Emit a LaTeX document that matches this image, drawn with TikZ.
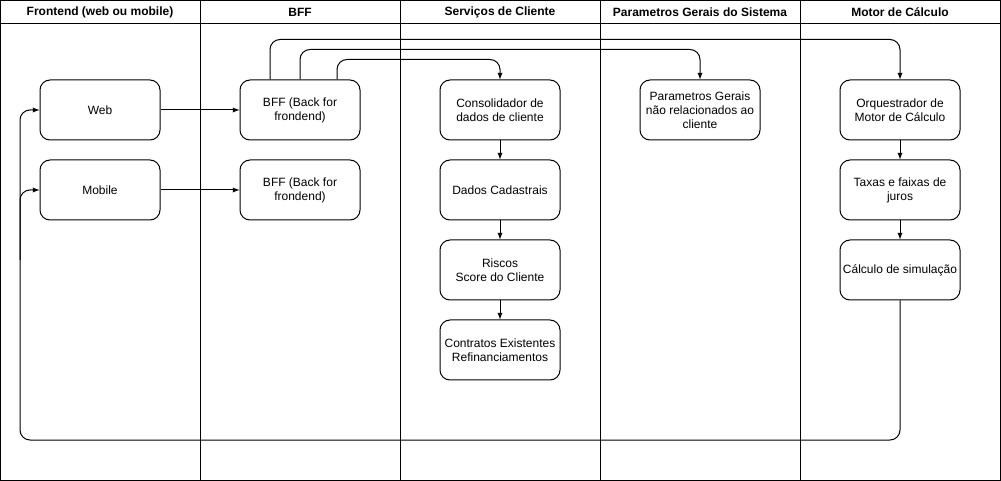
\documentclass[tikz,border=0pt]{standalone}
\usepackage{fontspec}
\setmainfont{Liberation Sans}
\usetikzlibrary{arrows,positioning}
\tikzset{>=latex}

\begin{document}
\begin{tikzpicture}[x=0.75pt, y=-0.75pt, line width=0.75pt,
        font=\fontsize{9}{10.5}\selectfont]

                        % lanes drawn directly, boxes placed below of one another
                        \tikzstyle{box}=[draw=black, rounded corners=7.5pt, align=center,
                                minimum width=90pt, minimum height=45pt, inner sep=1pt, node distance=60pt]
                        \tikzstyle{lane}=[font=\fontsize{9}{10.5}\selectfont\bfseries]
                        \tikzstyle{every edge}=[black, ->, draw]
                        \useasboundingbox (0,0) rectangle (1001,481);
                        \draw (0.5,0.5) rectangle (1000.5,480.5);
                        \draw (0.5,24) -- (1000.5,24);
                        \foreach \x in {200,400,600,800}
                                \draw (\x,0.5) -- (\x,480.5);

                        \node[lane] (hfront) at (100,12) {Frontend (web ou mobile)};
                        \node[lane] (hbff) at (300,12) {BFF};
                        \node[lane] (hserv) at (500,12) {Serviços de Cliente};
                        \node[lane] (hpar) at (700,12) {Parametros Gerais do Sistema};
                        \node[lane] (hmot) at (900,12) {Motor de Cálculo};

                        \node[box] (web) at (100,110) {Web};
                        \node[box] (mob) [below of = web] {Mobile};
                        \node[box] (bffw) at (300,110) {BFF (Back for\\frondend)};
                        \node[box] (bffm) [below of = bffw] {BFF (Back for\\frondend)};
                        \node[box] (con) at (500,110) {Consolidador de\\dados de cliente};
                        \node[box] (cad) [below of = con] {Dados Cadastrais};
                        \node[box] (ris) [below of = cad] {Riscos\\Score do Cliente};
                        \node[box] (ctr) [below of = ris] {Contratos Existentes\\Refinanciamentos};
                        \node[box] (par) at (700,110) {Parametros Gerais\\não relacionados ao\\cliente};
                        \node[box] (orq) at (900,110) {Orquestrador de\\Motor de Cálculo};
                        \node[box] (tax) [below of = orq] {Taxas e faixas de\\juros};
                        \node[box] (cal) [below of = tax] {Cálculo de simulação};

                        \draw (web) edge (bffw);
                        \draw (mob) edge (bffm);
                        \draw (con) edge (cad);
                        \draw (cad) edge (ris);
                        \draw (ris) edge (ctr);
                        \draw (orq) edge (tax);
                        \draw (tax) edge (cal);

                        \draw[->, rounded corners=7.5pt] ([xshift=-22.5pt]bffw.north) -- ++(0,-40) -| (orq.north);
                        \draw[->, rounded corners=7.5pt] (bffw.north) -- ++(0,-30) -| (par.north);
                        \draw[->, rounded corners=7.5pt] ([xshift=27.75pt]bffw.north) -- ++(0,-20) -| (con.north);

                        \coordinate (back) at (20,440);
                        \coordinate (split) at (20,260);
                        \draw[->, rounded corners=7.5pt] (cal.south) |- (back) |- (web.west);
                        \draw[->, rounded corners=7.5pt] (split) |- (mob.west);
                \end{tikzpicture}
\end{document}
